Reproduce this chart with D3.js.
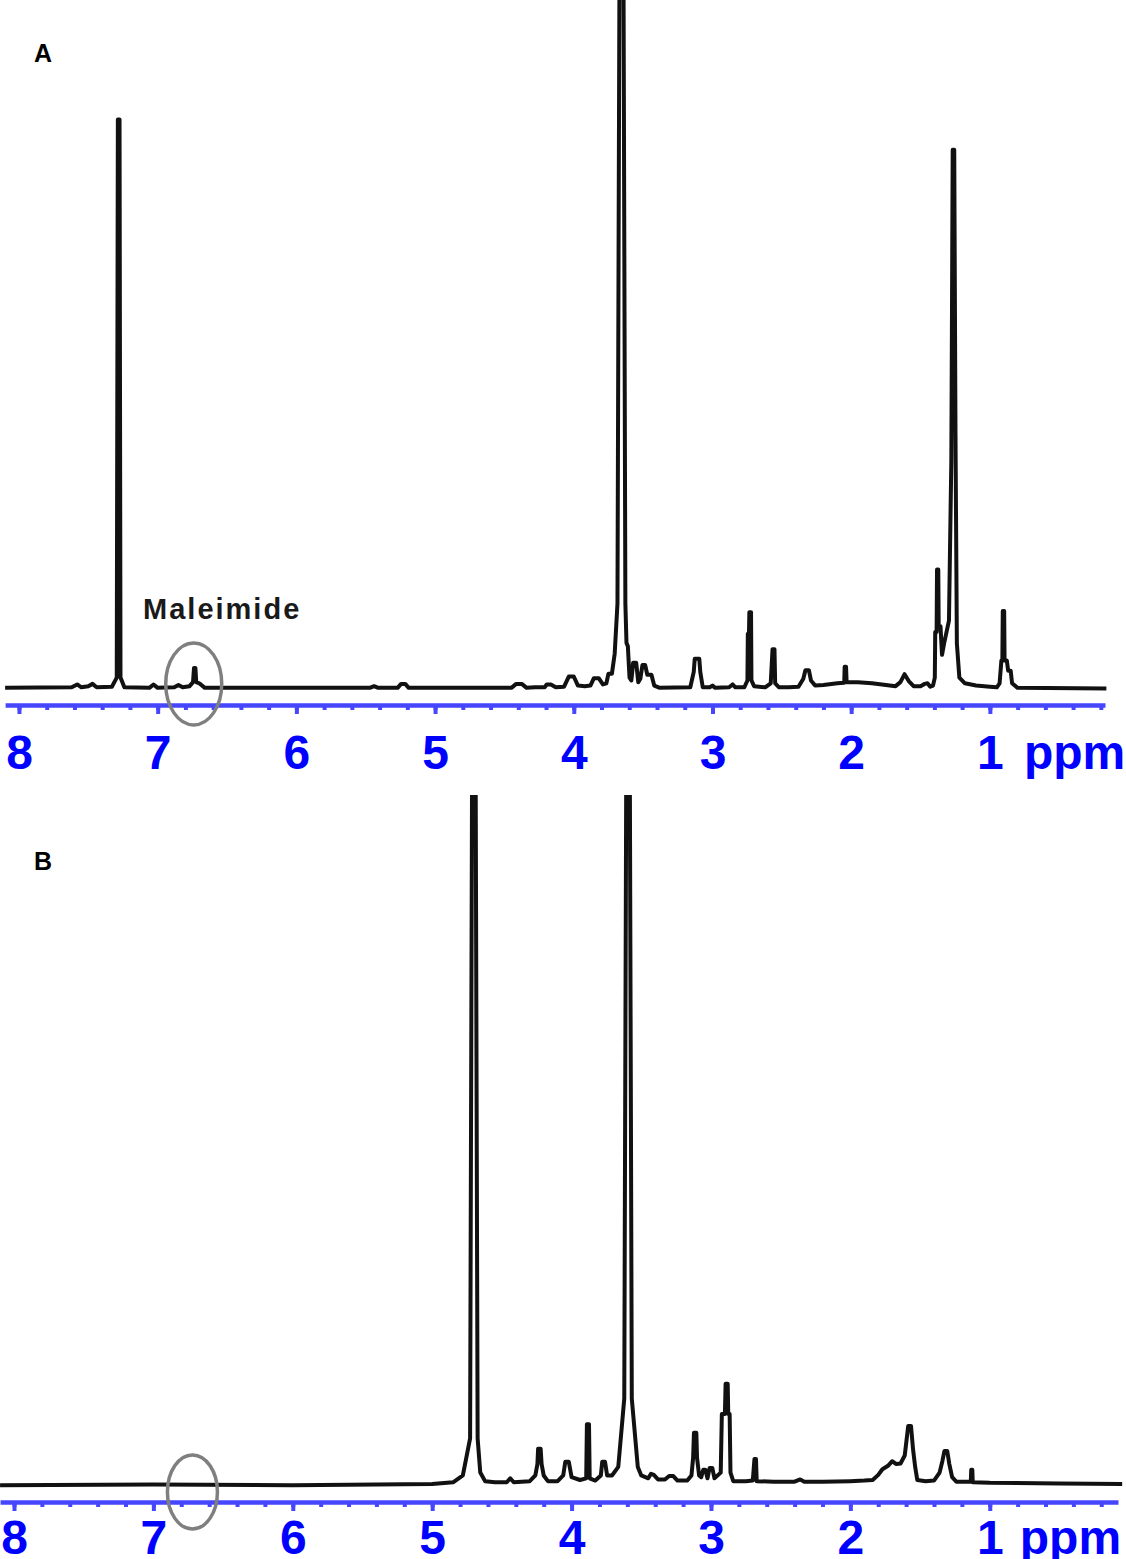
<!DOCTYPE html>
<html>
<head>
<meta charset="utf-8">
<script src="https://cdnjs.cloudflare.com/ajax/libs/d3/7.8.5/d3.min.js"></script>
<style>
  body { margin: 0; background: #fff; }
  svg { display: block; }
</style>
</head>
<body>
<div id="chart"></div>
<script>
// 1H NMR traces, [ppm, intensity] (intensity: CDCl3 peak = 100)
var trace_a = [
  [8.10, 0.2], [7.62, 0.3], [7.58, 0.8], [7.55, 0.3], [7.50, 0.5], [7.47, 0.9], [7.44, 0.3],
  [7.33, 0.4], [7.295, 2], [7.287, 100], [7.275, 100], [7.268, 2], [7.24, 0.3],
  [7.06, 0.2], [7.03, 0.8], [7.00, 0.2], [6.88, 0.3], [6.85, 0.7], [6.82, 0.3],
  [6.77, 0.5], [6.745, 1.2], [6.738, 3.7], [6.728, 3.7], [6.722, 1.2], [6.70, 1.0], [6.66, 0.2],
  [5.47, 0.2], [5.44, 0.5], [5.41, 0.2], [5.27, 0.2], [5.245, 0.9], [5.215, 0.9], [5.19, 0.2],
  [4.45, 0.2], [4.415, 0.9], [4.375, 0.9], [4.34, 0.2], [4.28, 0.3],
  [4.21, 0.3], [4.195, 0.8], [4.165, 0.8], [4.13, 0.3], [4.07, 0.4],
  [4.035, 2.2], [4.0, 2.2], [3.97, 0.6], [3.92, 0.5], [3.88, 0.6],
  [3.855, 1.9], [3.82, 1.9], [3.79, 0.8], [3.765, 1.0],
  [3.75, 2.7], [3.725, 2.7], [3.705, 6.2], [3.685, 15], [3.670, 130],
  [3.642, 130], [3.628, 15], [3.620, 8.1], [3.61, 7.5], [3.598, 2], [3.585, 1.5],
  [3.572, 4.6], [3.55, 4.6], [3.535, 1.2], [3.52, 1.8], [3.505, 4.2], [3.485, 4.2],
  [3.47, 2.5], [3.44, 2.5], [3.42, 0.6], [3.38, 0.2],
  [3.16, 0.3], [3.135, 3], [3.128, 5.3], [3.095, 5.3], [3.088, 3], [3.07, 0.3],
  [3.02, 0.3], [3.0, 0.6], [2.98, 0.2], [2.88, 0.3], [2.855, 0.8], [2.835, 0.3],
  [2.77, 0.3], [2.748, 1.5], [2.745, 9.7], [2.737, 9.7], [2.734, 13.5], [2.722, 13.5],
  [2.719, 1.5], [2.70, 0.5], [2.62, 0.3], [2.58, 1.0], [2.567, 7.0], [2.553, 7.0],
  [2.548, 1.0], [2.52, 0.3], [2.45, 0.3], [2.38, 0.4], [2.345, 1.8], [2.33, 3.3],
  [2.305, 3.3], [2.29, 1.5], [2.26, 0.6], [2.20, 0.7], [2.10, 1.0], [2.05, 1.1],
  [2.047, 3.9], [2.037, 3.9], [2.033, 1.2], [1.95, 1.2], [1.85, 1.0], [1.75, 0.7],
  [1.68, 0.5], [1.645, 1.2], [1.615, 2.6], [1.585, 1.4], [1.55, 0.5], [1.50, 0.5],
  [1.47, 0.9], [1.45, 1.0], [1.43, 0.4], [1.41, 0.6], [1.397, 2], [1.394, 10],
  [1.384, 10], [1.381, 21], [1.372, 21], [1.369, 11], [1.356, 11], [1.345, 6],
  [1.33, 8], [1.295, 12], [1.278, 40], [1.268, 94.7], [1.257, 94.7], [1.248, 45],
  [1.238, 8], [1.22, 2], [1.18, 1], [1.10, 0.6], [1.00, 0.4], [0.95, 0.3],
  [0.93, 1], [0.917, 5], [0.91, 5], [0.907, 13.7], [0.897, 13.7], [0.894, 5],
  [0.878, 5], [0.868, 3.2], [0.85, 3.2], [0.84, 1], [0.80, 0.2], [0.16, 0.1]
];

var trace_b = [
  [8.10, -0.2], [7.00, -0.1], [6.00, -0.2], [5.00, 0], [4.85, 0.3], [4.78, 1.5],
  [4.728, 8], [4.712, 140], [4.690, 140], [4.674, 8], [4.655, 2], [4.62, 0.5],
  [4.55, 0.3], [4.465, 0.3], [4.44, 1.0], [4.415, 0.3], [4.30, 0.5], [4.26, 1.5],
  [4.245, 3.5], [4.24, 6.2], [4.222, 6.2], [4.215, 3.5], [4.20, 1.5], [4.17, 0.5],
  [4.10, 0.5], [4.06, 1.5], [4.045, 3.9], [4.02, 3.9], [4.0, 1.2], [3.94, 0.7],
  [3.895, 1], [3.89, 10.5], [3.875, 10.5], [3.87, 1], [3.83, 0.6], [3.79, 1.5],
  [3.78, 3.9], [3.76, 3.9], [3.745, 1.5], [3.71, 1.5], [3.665, 3], [3.622, 15],
  [3.606, 140], [3.584, 140], [3.568, 15], [3.525, 3], [3.50, 1.5], [3.45, 1.0],
  [3.43, 1.8], [3.41, 1.6], [3.38, 0.8], [3.33, 0.8], [3.30, 1.4], [3.27, 1.4],
  [3.24, 0.6], [3.17, 0.6], [3.14, 1.5], [3.128, 4.6], [3.122, 9.0], [3.105, 9.0],
  [3.10, 4.6], [3.085, 1.5], [3.07, 1.2], [3.055, 2.5], [3.04, 2.5], [3.025, 1],
  [3.01, 2.8], [2.99, 2.8], [2.975, 1], [2.93, 2], [2.922, 12.3], [2.9, 12.3],
  [2.895, 17.6], [2.88, 17.6], [2.876, 12.3], [2.866, 12.3], [2.86, 2], [2.84, 0.5],
  [2.75, 0.5], [2.70, 0.6], [2.688, 4.4], [2.677, 4.4], [2.672, 0.5], [2.55, 0.4],
  [2.40, 0.4], [2.36, 0.8], [2.33, 0.4], [2.20, 0.4], [2.00, 0.5], [1.90, 0.6],
  [1.84, 0.7], [1.80, 1.6], [1.77, 2.6], [1.73, 3.2], [1.70, 4.0], [1.67, 3.5],
  [1.64, 3.6], [1.61, 5], [1.585, 10.2], [1.565, 10.2], [1.55, 6], [1.535, 3],
  [1.52, 0.7], [1.46, 0.5], [1.40, 0.6], [1.36, 2], [1.34, 4], [1.325, 5.8],
  [1.305, 5.8], [1.29, 3.5], [1.27, 1.2], [1.24, 0.4], [1.136, 0.4], [1.133, 2.5],
  [1.125, 2.5], [1.122, 0.3], [1.0, 0.2], [0.5, 0.1], [0.05, 0]
];

var major_ticks = [8, 7, 6, 5, 4, 3, 2, 1];
var minor_ticks = d3.range(1, 41).map(function(i){ return +(i * 0.2).toFixed(1); });
var axis_unit = "ppm";
var panel_names = ["A", "B"];
var maleimide_label = "Maleimide";
var maleimide_ppm = [6.74, 6.72];   // circled region in each panel

// SVG properties
var width = 1126;
var height = 1559;
var axis_blue = "#4646ff";
var text_blue = "#0000ff";
var font = "'Liberation Sans', Arial, sans-serif";

var svg = d3.select("#chart")
            .append("svg")
            .attr("width", width)
            .attr("height", height);

var defs = svg.append("defs");

var panels = [
  {name: panel_names[0], data: trace_a, circle: maleimide_ppm[0], circle_v: 0.9,
   x_dom: [8.1, 0.17], x_rng: [5.1, 1105], y_rng: [689, 0], top: -20,
   axis_y: 705, label_pad: 21, unit_dx: 34, name_y: 62, rx: 28, ry: 41},
  {name: panel_names[1], data: trace_b, circle: maleimide_ppm[1], circle_v: -1.4,
   x_dom: [8.1, 0.08], x_rng: [0.06, 1118], y_rng: [1484, 795], top: 795,
   axis_y: 1502, label_pad: 9, unit_dx: 30, name_y: 870, rx: 25, ry: 37}
];

panels.forEach(function(p, i){ draw_panel(p, i); });


function draw_panel(p, i) {
  var x = d3.scaleLinear().domain(p.x_dom).range(p.x_rng);
  var y = d3.scaleLinear().domain([0, 121]).range(p.y_rng);

  // clip so tall peaks are cut flat at the panel top
  defs.append("clipPath")
      .attr("id", "clip" + i)
      .append("rect")
      .attr("x", 0)
      .attr("y", p.top)
      .attr("width", width)
      .attr("height", p.axis_y - p.top);

  var g = svg.append("g");

  // minor ticks every 0.2 ppm
  var minor = g.append("g")
      .attr("transform", "translate(0," + p.axis_y + ")")
      .call(d3.axisBottom(x).tickValues(minor_ticks).tickSize(5)
              .tickSizeOuter(0).tickFormat(""));
  minor.select(".domain").remove();
  minor.selectAll(".tick line")
      .attr("stroke", axis_blue)
      .attr("stroke-width", 4);

  var major = g.append("g")
      .attr("transform", "translate(0," + p.axis_y + ")")
      .call(d3.axisBottom(x).tickValues(major_ticks).tickSize(9)
              .tickSizeOuter(0).tickPadding(p.label_pad).tickFormat(d3.format("d")));
  major.select(".domain")
      .attr("stroke", axis_blue)
      .attr("stroke-width", 4.5);
  major.selectAll(".tick line")
      .attr("stroke", axis_blue)
      .attr("stroke-width", 4);
  major.selectAll(".tick text")
      .attr("fill", text_blue)
      .attr("font-family", font)
      .attr("font-weight", "bold")
      .attr("font-size", 48);

  // unit after the last label
  major.append("text")
      .attr("x", x(1) + p.unit_dx)
      .attr("y", 9 + p.label_pad)
      .attr("dy", "0.71em")
      .attr("fill", text_blue)
      .attr("font-family", font)
      .attr("font-weight", "bold")
      .attr("font-size", 48)
      .attr("text-anchor", "start")
      .text(axis_unit);

  // spectrum
  var line = d3.line()
      .x(function(d){ return x(d[0]); })
      .y(function(d){ return y(d[1]); });

  g.append("path")
      .datum(p.data)
      .attr("clip-path", "url(#clip" + i + ")")
      .attr("d", line)
      .attr("fill", "none")
      .attr("stroke", "#111")
      .attr("stroke-width", 4)
      .attr("stroke-linejoin", "round");

  // maleimide circle
  g.append("ellipse")
      .attr("cx", x(p.circle))
      .attr("cy", y(p.circle_v))
      .attr("rx", p.rx)
      .attr("ry", p.ry)
      .attr("fill", "none")
      .attr("stroke", "#7f7f7f")
      .attr("stroke-width", 3.5);

  if (i === 0) {
    g.append("text")
        .attr("x", x(6.535))
        .attr("y", y(12.3))
        .attr("text-anchor", "middle")
        .attr("font-family", font)
        .attr("font-weight", "bold")
        .attr("font-size", 29)
        .attr("letter-spacing", 2)
        .attr("fill", "#1a1a1a")
        .text(maleimide_label);
  }

  // panel letter
  svg.append("text")
      .attr("x", 34)
      .attr("y", p.name_y)
      .attr("font-family", font)
      .attr("font-weight", "bold")
      .attr("font-size", 25)
      .attr("fill", "#000")
      .text(p.name);
}
</script>
</body>
</html>
